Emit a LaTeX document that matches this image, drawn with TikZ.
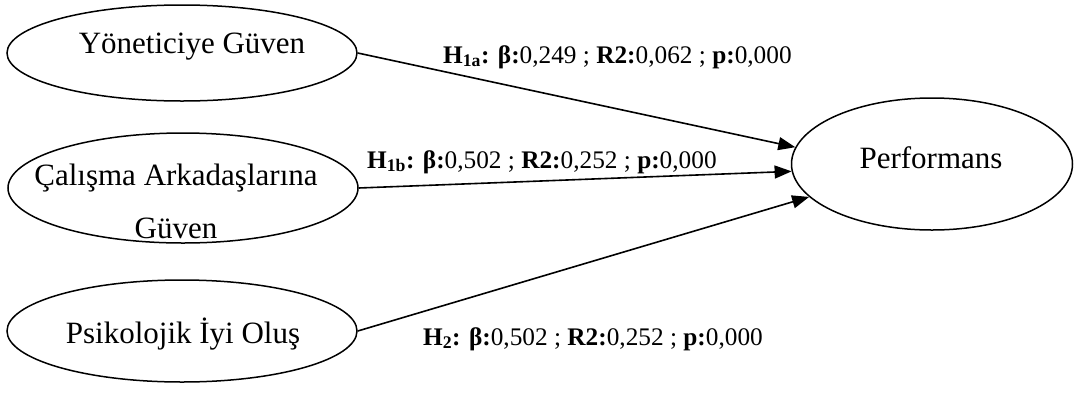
\documentclass[tikz,border=0pt]{standalone}
\usepackage{fontspec}
\setmainfont{Liberation Serif}
\usetikzlibrary{shapes.geometric,arrows.meta}
\begin{document}
\begin{tikzpicture}[x=1pt,y=-1pt,
  construct/.style={draw,ellipse,line width=1.5pt,inner sep=0pt},
  ctext/.style={anchor=base,inner sep=0pt,font=\fontsize{31}{53}\selectfont,align=center},
  pathlabel/.style={anchor=base west,inner sep=0pt,font=\fontsize{25.3}{28}\selectfont},
  effect/.style={line width=1.6pt,-{Triangle[length=17pt,width=13pt]}}]
\useasboundingbox (0,0) rectangle (1080,392);

% latent constructs
\node[construct,minimum width=350pt,minimum height=96pt]  (yon) at (182,53) {};
\node[construct,minimum width=350pt,minimum height=110pt] (cal) at (183,188) {};
\node[construct,minimum width=350pt,minimum height=102pt] (psi) at (182,331) {};
\node[construct,minimum width=281pt,minimum height=132pt] (per) at (932,164) {};

\node[ctext] (tyon) at (192,53)  {Yöneticiye Güven};
\node[ctext] (tcal) at (176,238) {Çalışma Arkadaşlarına\\Güven};
\node[ctext] (tpsi) at (183,343) {Psikolojik İyi Oluş};
\node[ctext] (tper) at (931,168) {Performans};

% hypothesised paths
\draw[effect] (yon.east) -- (per.173);
\draw[effect] (cal.east) -- (per.183);
\draw[effect] (psi.east) -- (per.195);

\node[pathlabel] (h1a) at (443,63)  {\textbf{H\textsubscript{1a}: β:}0,249 ; \textbf{R2:}0,062 ; \textbf{p:}0,000};
\node[pathlabel] (h1b) at (367,168) {\textbf{H\textsubscript{1b}: β:}0,502 ; \textbf{R2:}0,252 ; \textbf{p:}0,000};
\node[pathlabel] (h2)  at (423,345) {\textbf{H\textsubscript{2}: β:}0,502 ; \textbf{R2:}0,252 ; \textbf{p:}0,000};
\end{tikzpicture}
\end{document}
